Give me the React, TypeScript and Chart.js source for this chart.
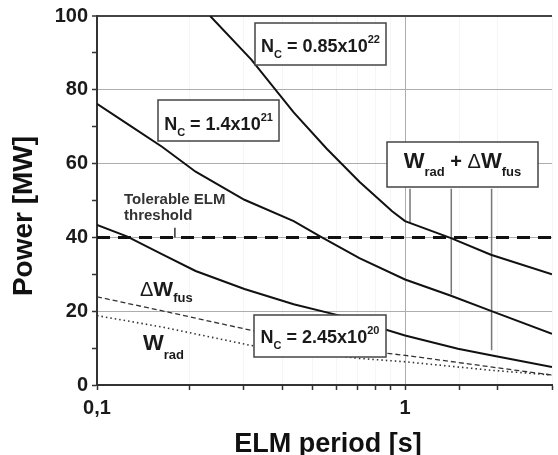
import React, { useEffect, useRef } from "react";
import { Chart, registerables } from "chart.js";

Chart.register(...registerables);

// ---- data ----
const nc085X = [0.233, 0.317, 0.435, 0.556, 0.711, 0.908, 1.0, 1.41, 1.9, 3.0];
const nc085Y = [100, 88.2, 73.9, 64.1, 55.1, 47.1, 44.4, 39.8, 35.3, 30.0];

const nc14X = [0.1, 0.128, 0.163, 0.209, 0.301, 0.435, 0.53, 0.711, 1.0, 1.41, 1.9, 3.0];
const nc14Y = [76.2, 70.3, 64.5, 57.8, 50.2, 44.4, 40.3, 34.4, 28.6, 24.2, 20.1, 13.9];

const nc245X = [0.1, 0.125, 0.163, 0.209, 0.301, 0.435, 0.614, 1.0, 1.485, 1.9, 3.0];
const nc245Y = [43.4, 40.3, 35.4, 30.9, 26.0, 21.9, 18.8, 13.4, 9.8, 8.05, 4.9];

const dWfusX = [0.1, 0.163, 0.317, 0.711, 1.0, 1.9, 3.0];
const dWfusY = [23.9, 20.1, 14.8, 9.4, 8.05, 4.9, 2.7];

const wRadX = [0.1, 0.163, 0.317, 0.711, 1.0, 1.9, 3.0];
const wRadY = [18.8, 15.7, 10.7, 7.2, 6.3, 4.0, 2.7];

const thresholdX = [0.1, 3.0];
const thresholdY = [40, 40];

const sumLineX = [1.038, 1.413, 1.91];
const sumLineTop = 53.2;
const sumLineBottom = [44.0, 24.6, 9.4];

const pointerX = 0.179;
const pointerY = [40, 42.6];

const xTickLabels: Record<string, string> = { "0.1": "0,1", "1": "1" };
const yLabelStep = 20;

const pts = (xs: number[], ys: number[]) => xs.map((x, i) => ({ x, y: ys[i] }));

const FONT = '"Liberation Sans", Arial, Helvetica, sans-serif';
const GRID_BLUE = "rgb(165,165,238)";
const GRID_FAINT = "rgba(0,0,0,0.04)";

type Part = { t: string; size: number; dy?: number; weight?: string };

function drawRich(ctx: CanvasRenderingContext2D, parts: Part[], x: number, baseline: number, align: "center" | "left") {
  const widths = parts.map((p) => {
    ctx.font = `${p.weight ?? "bold"} ${p.size}px ${FONT}`;
    return ctx.measureText(p.t).width;
  });
  const total = widths.reduce((a, b) => a + b, 0);
  let cx = align === "center" ? x - total / 2 : x;
  ctx.textAlign = "left";
  ctx.textBaseline = "alphabetic";
  parts.forEach((p, i) => {
    ctx.font = `${p.weight ?? "bold"} ${p.size}px ${FONT}`;
    ctx.fillText(p.t, cx, baseline + (p.dy ?? 0));
    cx += widths[i];
  });
}

const ncParts = (value: string, exp: string): Part[] => [
  { t: "N", size: 18 },
  { t: "C", size: 11, dy: 6 },
  { t: " = " + value + "x10", size: 18 },
  { t: exp, size: 11, dy: -9 },
];

const boxes = [
  { l: 255, t: 23, r: 386, b: 65, base: 52, parts: ncParts("0.85", "22") },
  { l: 158, t: 100, r: 279, b: 141, base: 130, parts: ncParts("1.4", "21") },
  { l: 254, t: 315, r: 386, b: 357, base: 343, parts: ncParts("2.45", "20") },
  {
    l: 387, t: 142, r: 538, b: 187, base: 168,
    parts: [
      { t: "W", size: 22 },
      { t: "rad", size: 13, dy: 8 },
      { t: " + ", size: 20 },
      { t: "Δ", size: 20, weight: "normal" },
      { t: "W", size: 22 },
      { t: "fus", size: 13, dy: 8 },
    ] as Part[],
  },
];

const annotationPlugin = {
  id: "annotations",
  afterDatasetsDraw(chart: any) {
    const ctx: CanvasRenderingContext2D = chart.ctx;
    ctx.save();
    boxes.forEach((bx) => {
      ctx.fillStyle = "#ffffff";
      ctx.fillRect(bx.l, bx.t, bx.r - bx.l, bx.b - bx.t);
      ctx.strokeStyle = "#444";
      ctx.lineWidth = 1.5;
      ctx.strokeRect(bx.l, bx.t, bx.r - bx.l, bx.b - bx.t);
      ctx.fillStyle = "#1a1a1a";
      drawRich(ctx, bx.parts, (bx.l + bx.r) / 2, bx.base, "center");
    });
    ctx.fillStyle = "#333";
    drawRich(ctx, [{ t: "Tolerable ELM", size: 15 }], 124, 204, "left");
    drawRich(ctx, [{ t: "threshold", size: 15 }], 124, 220, "left");
    ctx.fillStyle = "#1a1a1a";
    drawRich(ctx, [
      { t: "Δ", size: 20, weight: "normal" },
      { t: "W", size: 21 },
      { t: "fus", size: 13, dy: 6 },
    ], 140, 296, "left");
    drawRich(ctx, [
      { t: "W", size: 22 },
      { t: "rad", size: 13, dy: 9 },
    ], 143, 350, "left");
    ctx.fillStyle = "#111";
    ctx.font = `bold 27px ${FONT}`;
    ctx.textAlign = "center";
    ctx.textBaseline = "alphabetic";
    ctx.fillText("ELM period [s]", 328, 452);
    ctx.translate(32, 216);
    ctx.rotate(-Math.PI / 2);
    ctx.font = `bold 28px ${FONT}`;
    ctx.fillText("Power [MW]", 0, 0);
    ctx.restore();
  },
};

export default function App() {
  const ref = useRef<HTMLCanvasElement | null>(null);

  useEffect(() => {
    if (!ref.current) return;
    const black = "#111";
    const datasets: any[] = [
      { data: pts(nc085X, nc085Y), borderColor: black, borderWidth: 2 },
      { data: pts(nc14X, nc14Y), borderColor: black, borderWidth: 2 },
      { data: pts(nc245X, nc245Y), borderColor: black, borderWidth: 2 },
      { data: pts(dWfusX, dWfusY), borderColor: "#333", borderWidth: 1.3, borderDash: [5, 3] },
      { data: pts(wRadX, wRadY), borderColor: "#333", borderWidth: 1.6, borderDash: [1.5, 3] },
      { data: pts(thresholdX, thresholdY), borderColor: black, borderWidth: 3, borderDash: [13, 8] },
      ...sumLineX.map((x, i) => ({
        data: [{ x, y: sumLineTop }, { x, y: sumLineBottom[i] }],
        borderColor: "#777",
        borderWidth: 1.5,
      })),
      { data: [{ x: pointerX, y: pointerY[0] }, { x: pointerX, y: pointerY[1] }], borderColor: "#333", borderWidth: 1.5 },
    ].map((d) => ({ ...d, pointRadius: 0, fill: false, tension: 0 }));

    const chart = new Chart(ref.current, {
      type: "line",
      data: { datasets },
      plugins: [annotationPlugin],
      options: {
        animation: false,
        responsive: false,
        layout: { padding: { top: 13, left: 0, right: 0, bottom: 0 } },
        plugins: { legend: { display: false }, tooltip: { enabled: false } },
        scales: {
          x: {
            type: "logarithmic",
            min: 0.1,
            max: 3,
            afterFit: (s: any) => { s.height = 70; },
            border: { color: "#333", width: 2 },
            grid: {
              color: (c: any) => {
                const v = c && c.tick ? Number(c.tick.value) : NaN;
                return Math.abs(v - 1) < 1e-6 ? GRID_BLUE : GRID_FAINT;
              },
              lineWidth: 1,
              tickColor: "#333",
              tickLength: 5,
              tickWidth: 1.5,
            },
            ticks: {
              autoSkip: false,
              maxRotation: 0,
              padding: 6,
              color: "#1a1a1a",
              font: { family: FONT, size: 20, weight: "bold" },
              callback: (v: any) => {
                const key = String(Math.round(Number(v) * 1000) / 1000);
                return xTickLabels[key] ?? "";
              },
            },
          },
          y: {
            type: "linear",
            min: 0,
            max: 100,
            afterFit: (s: any) => { s.width = 97; },
            border: { color: "#333", width: 2 },
            grid: {
              color: (c: any) => {
                const v = c && c.tick ? Number(c.tick.value) : 0;
                if (v === 100) return "#444";
                if (v > 0 && v % yLabelStep === 0) return GRID_BLUE;
                return "rgba(0,0,0,0)";
              },
              lineWidth: (c: any) => (c && c.tick && c.tick.value === 100 ? 2 : 1),
              tickColor: "#333",
              tickLength: 5,
              tickWidth: 1.5,
            },
            ticks: {
              stepSize: 10,
              padding: 4,
              color: "#1a1a1a",
              font: { family: FONT, size: 20, weight: "bold" },
              callback: (v: any) => (Number(v) % yLabelStep === 0 ? String(v) : ""),
            },
          },
        },
      },
    });
    return () => chart.destroy();
  }, []);

  return (
    <div style={{ position: "fixed", left: 0, top: 0, width: 558, height: 455, background: "#fff" }}>
      <canvas ref={ref} width={558} height={455} />
    </div>
  );
}
